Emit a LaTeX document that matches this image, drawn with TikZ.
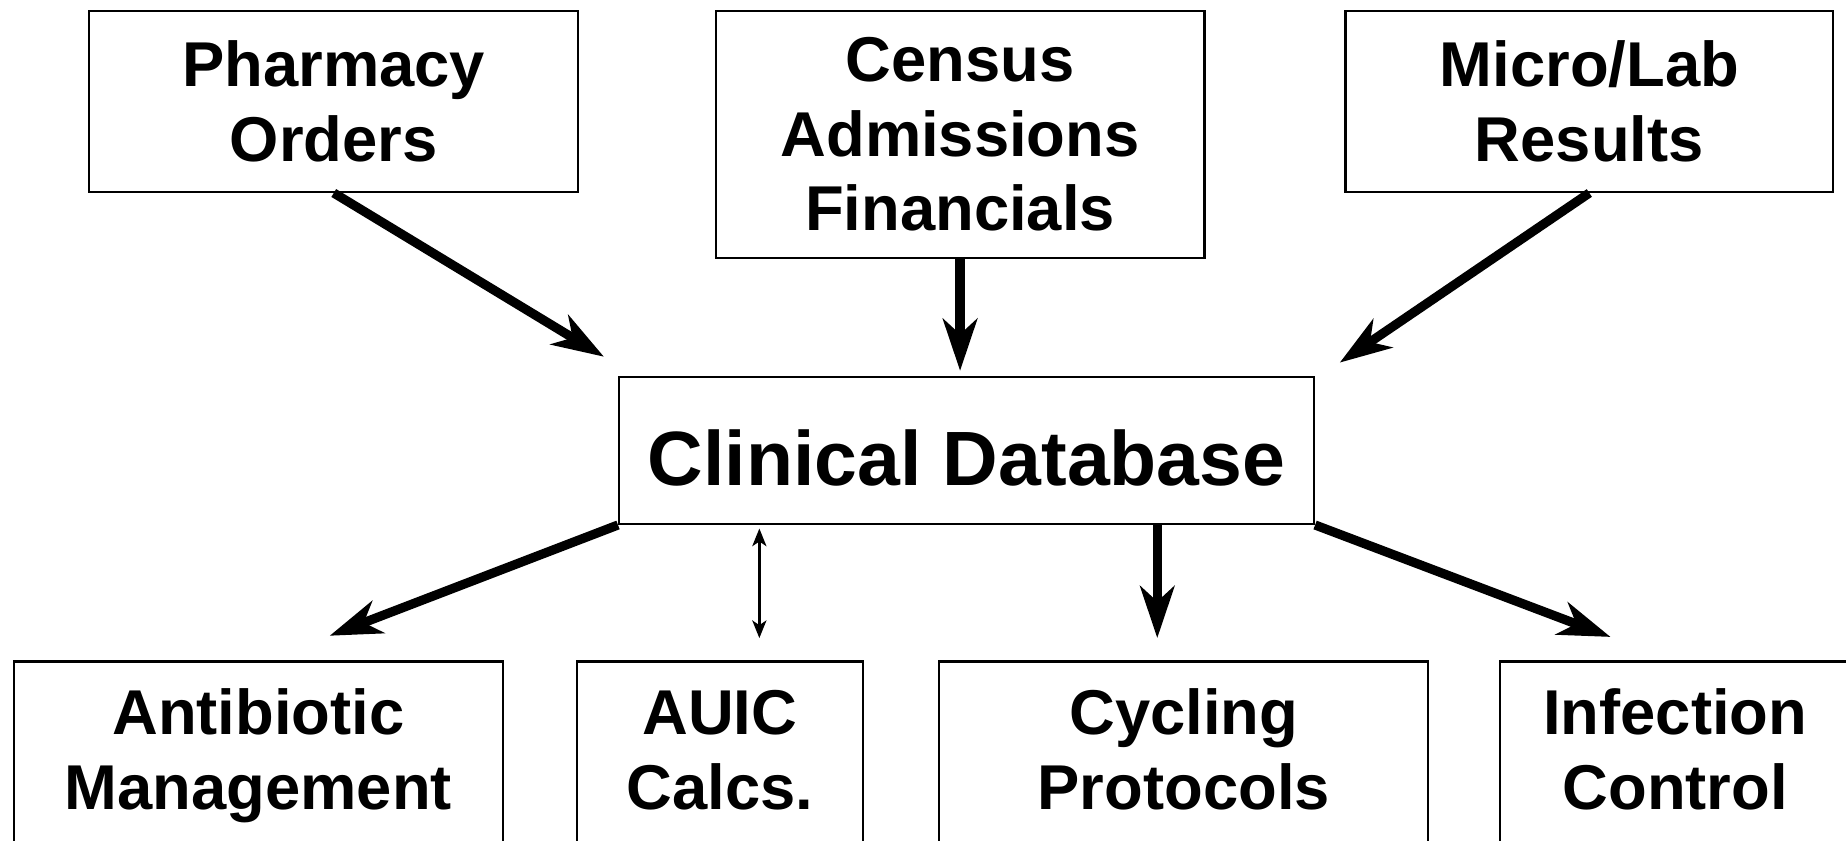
\documentclass[tikz,border=0pt]{standalone}
\usepackage{fontspec}
\setmainfont{Liberation Sans}
\usetikzlibrary{arrows.meta}

\begin{document}
\begin{tikzpicture}[x=0.01cm, y=-0.01cm,
    srcbox/.style={draw, line width=0.5pt, inner sep=0pt, align=center,
        font=\fontsize{15.3}{18.1}\selectfont\bfseries},
    outbox/.style={draw, line width=0.5pt, inner sep=0pt, anchor=north,
        text height=0.62cm, text depth=1.3cm,
        font=\fontsize{15.3}{18.1}\selectfont\bfseries},
    flow/.style={line width=0.078cm, -{Stealth[length=0.44cm, width=0.29cm, inset=0.13cm]}},
    link/.style={line width=0.02cm,
        {Stealth[length=0.15cm, width=0.12cm, inset=0.04cm]}-{Stealth[length=0.15cm, width=0.12cm, inset=0.04cm]}}]
    \useasboundingbox (0,0) rectangle (1568,714);
    \clip (0,0) rectangle (1568,714);

    % 数据来源
    \node[srcbox, minimum width=4.15cm, minimum height=1.54cm] (pharm) at (283.5,86) {Pharmacy\\Orders};
    \node[srcbox, minimum width=4.15cm, minimum height=2.10cm] (census) at (815.5,114) {Census\\Admissions\\Financials};
    \node[srcbox, minimum width=4.14cm, minimum height=1.54cm] (micro) at (1350,86) {Micro/Lab\\Results};

    % 数据库
    \node[draw, line width=0.5pt, inner sep=0pt, minimum width=5.9cm, minimum height=1.25cm,
        text height=0.59cm, text depth=0pt,
        font=\fontsize{18.6}{22}\selectfont\bfseries] (clindb) at (821,382.5) {Clinical Database};

    % 应用
    \node[outbox, minimum width=4.15cm] (antib) at (219.5,561) {\begin{tabular}[t]{@{}c@{}}Antibiotic\\Management\end{tabular}};
    \node[outbox, minimum width=2.43cm] (auic) at (611.5,561) {\begin{tabular}[t]{@{}c@{}}AUIC\\Calcs.\end{tabular}};
    \node[outbox, minimum width=4.15cm] (cycl) at (1005.5,561) {\begin{tabular}[t]{@{}c@{}}Cycling\\Protocols\end{tabular}};
    \node[outbox, minimum width=2.98cm] (infect) at (1423,561) {\begin{tabular}[t]{@{}c@{}}Infection\\Control\end{tabular}};

    % 箭头端点
    \coordinate (pharmtip) at (513,303);
    \coordinate (censustip) at (815.5,315);
    \coordinate (microtip) at (1138,308);
    \coordinate (antibtip) at (280,540);
    \coordinate (auictip) at (645,542);
    \coordinate (cycltip) at (983,542);
    \coordinate (infecttip) at (1368,541);

    % 输入
    \draw[flow] (pharm.south) -- (pharmtip);
    \draw[flow] (census.south) -- (censustip);
    \draw[flow] (micro.south) -- (microtip);

    % 输出
    \draw[flow] (clindb.south west) -- (antibtip);
    \draw[link, shorten <=0.03cm] (clindb.south -| auictip) -- (auictip);
    \draw[flow] (clindb.south -| cycltip) -- (cycltip);
    \draw[flow] (clindb.south east) -- (infecttip);
\end{tikzpicture}
\end{document}
